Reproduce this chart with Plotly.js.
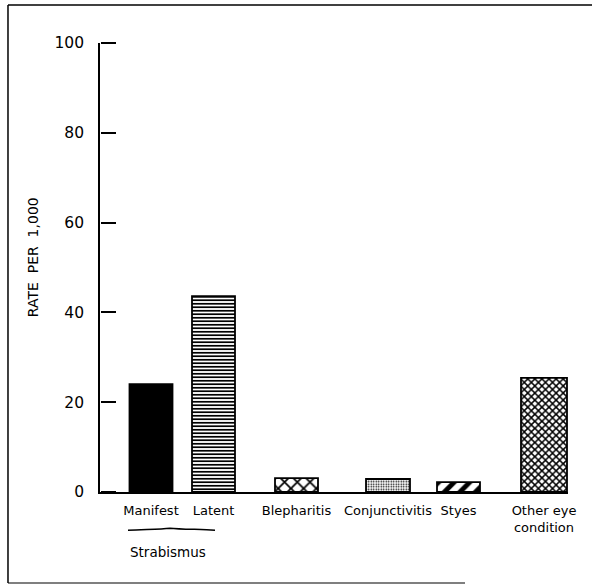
<!DOCTYPE html>
<html>
<head>
<meta charset="utf-8">
<script src="https://cdn.plot.ly/plotly-3.0.1.min.js"></script>
<style>html,body{margin:0;padding:0;background:#fff;}#chart{width:592px;height:585px;}</style>
</head>
<body>
<div id="chart"></div>
<script>
// ---- data ----
const categories = ["Manifest", "Latent", "Blepharitis", "Conjunctivitis", "Styes", "Other eye<br>condition"];
const rates = [24.0, 43.6, 3.1, 2.9, 2.2, 25.4];
const yTickVals = [0, 20, 40, 60, 80, 100];
const yTickText = ["0", "20", "40", "60", "80", "100"];
const yTitle = "RATE  PER  1,000";
const groupLabel = "Strabismus";

// ---- layout constants (bar centres along the baseline, axis units) ----
const barCenters = [51, 113.5, 196.5, 288, 358.5, 444];
const barWidths = [43, 43, 43, 44, 43, 46];
const patterns = [
  {shape: "", fgcolor: "#000", bgcolor: "#000"},
  {shape: "-", fgcolor: "#000", bgcolor: "#fff", size: 3.5, solidity: 0.5},
  {shape: "x", fgcolor: "#000", bgcolor: "#fff", size: 9, solidity: 0.35},
  {shape: ".", fgcolor: "#000", bgcolor: "#fff", size: 2.5, solidity: 0.3},
  {shape: "/", fgcolor: "#000", bgcolor: "#fff", size: 11, solidity: 0.45},
  {shape: "x", fgcolor: "#000", bgcolor: "#fff", size: 5, solidity: 0.5}
];
const font = "DejaVu Sans, Liberation Sans, sans-serif";

const traces = categories.map((c, i) => ({
  type: "bar",
  x: [barCenters[i]],
  y: [rates[i]],
  width: barWidths[i],
  name: c,
  marker: {
    color: i === 0 ? "#000" : "#fff",
    pattern: patterns[i],
    line: {color: "#000", width: 1.8}
  },
  hoverinfo: "skip",
  showlegend: false
}));

// invisible trace on a second y axis, used only to draw the tick marks
traces.push({type: "scatter", x: [barCenters[0]], y: [0], yaxis: "y2", mode: "markers",
  marker: {opacity: 0}, hoverinfo: "skip", showlegend: false});

const layout = {
  width: 592, height: 585,
  margin: {l: 100, r: 24, t: 43, b: 93},
  paper_bgcolor: "#fff", plot_bgcolor: "#fff",
  barmode: "overlay",
  font: {family: font, size: 13, color: "#000"},
  xaxis: {
    range: [0, 468],
    tickvals: barCenters,
    ticktext: categories,
    ticks: "",
    showgrid: false, zeroline: false,
    showline: true, linecolor: "#000", linewidth: 1.8,
    tickfont: {size: 13, family: font},
    ticklabelstandoff: 6,
    fixedrange: true
  },
  yaxis: {
    range: [0, 100],
    tickvals: yTickVals,
    ticktext: yTickText,
    ticks: "",
    showgrid: false, zeroline: false,
    showline: true, linecolor: "#000", linewidth: 1.8,
    tickfont: {size: 15.5, family: font},
    ticklabelstandoff: 11,
    fixedrange: true
  },
  yaxis2: {
    range: [0, 100],
    overlaying: "y",
    side: "right",
    anchor: "free",
    position: 0,
    tickvals: yTickVals,
    ticks: "outside", ticklen: 15, tickwidth: 1.8, tickcolor: "#000",
    showticklabels: false,
    showgrid: false, zeroline: false, showline: false,
    fixedrange: true
  },
  annotations: [
    {text: yTitle, textangle: -90, xref: "paper", yref: "paper",
     x: -0.143, y: 0.523, xanchor: "center", yanchor: "middle",
     showarrow: false, font: {size: 14, family: font}},
    {text: groupLabel, xref: "x", yref: "paper",
     x: 68, y: -0.133, xanchor: "center", yanchor: "middle",
     showarrow: false, font: {size: 13.5, family: font}}
  ],
  shapes: [
    // brace under the strabismus group
    {type: "path", xref: "x", yref: "paper",
     path: "M 28,-0.0850 C 45,-0.0830 60,-0.0830 70,-0.0805 C 80,-0.0830 100,-0.0830 115,-0.0850",
     line: {color: "#000", width: 1.5}},
    // frame lines
    {type: "line", xref: "paper", yref: "paper", x0: -0.1966, x1: -0.1966, y0: 1.0846, y1: -0.2027,
     line: {color: "#000", width: 1.5}},
    {type: "line", xref: "paper", yref: "paper", x0: -0.1966, x1: 1.06, y0: 1.0846, y1: 1.0846,
     line: {color: "#000", width: 1.5}},
    {type: "line", xref: "paper", yref: "paper", x0: -0.1966, x1: 0.78, y0: -0.2027, y1: -0.2027,
     line: {color: "#000", width: 1.2}}
  ]
};

Plotly.newPlot("chart", traces, layout, {displayModeBar: false, staticPlot: true});
</script>
</body>
</html>
